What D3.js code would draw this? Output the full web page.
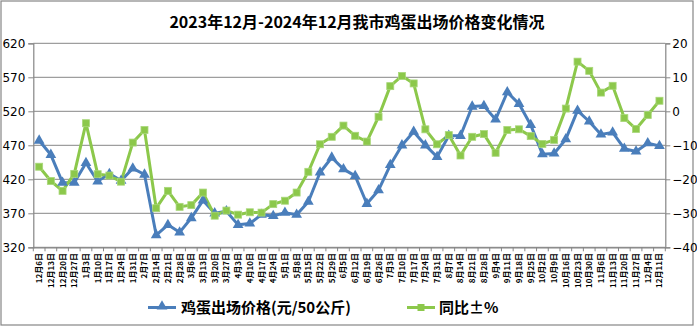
<!DOCTYPE html>
<html><head><meta charset="utf-8">
<script src="https://cdn.jsdelivr.net/npm/d3@7"></script>
<style>body{margin:0;background:#fff;}svg{display:block;}</style>
</head><body>
<svg id="c" width="697" height="326"></svg>
<script>
const categories = ["12月6日","12月13日","12月20日","12月27日","1月3日","1月10日","1月17日","1月24日","1月31日","2月7日","2月14日","2月21日","2月28日","3月6日","3月13日","3月20日","3月27日","4月3日","4月10日","4月17日","4月24日","5月1日","5月8日","5月15日","5月22日","5月29日","6月5日","6月12日","6月19日","6月26日","7月3日","7月10日","7月17日","7月24日","7月31日","8月7日","8月14日","8月21日","8月28日","9月4日","9月11日","9月18日","9月25日","10月2日","10月9日","10月16日","10月23日","10月30日","11月6日","11月13日","11月20日","11月27日","12月4日","12月11日"];
const priceValues = [477,456,415,415,444,417,428,418,436,427,338,353,342,363,389,370,373,353,355,368,366,371,368,387,430,452,435,425,384,404,441,470,490,470,453,484,484,527,528,508,548,531,500,457,458,479,521,505,486,489,465,461,473,469];
const yoyValues = [-16.3,-20.5,-23.4,-18.4,-3.5,-18.5,-18.9,-20.7,-9.2,-5.5,-28.5,-23.4,-28.1,-27.6,-23.9,-30.7,-29.2,-30.4,-29.7,-29.8,-27.3,-26.3,-23.9,-17.8,-9.7,-7.5,-4.2,-7.2,-8.9,-1.6,7.4,10.4,8.2,-5.3,-9.7,-7.0,-13.0,-7.5,-6.7,-12.2,-5.5,-5.3,-7.3,-9.6,-8.4,0.8,14.6,11.9,5.5,7.5,-2.0,-5.2,-1.1,3.1];
const leftTicks = [320,370,420,470,520,570,620];
const rightTicks = [-40,-30,-20,-10,0,10,20];
const title = "2023年12月-2024年12月我市鸡蛋出场价格变化情况";
const seriesNames = ["鸡蛋出场价格(元/50公斤)","同比±%"];
const colors = ["#4a7ebb","#8cc84b"];

const svg = d3.select("#c");
const L = 33.3, R = 665.3, T = 43.3, B = 247.3;
const x = d3.scaleBand().domain(categories).range([L, R]);
const yL = d3.scaleLinear().domain([320,620]).range([B,T]);
const yR = d3.scaleLinear().domain([-40,20]).range([B,T]);
const gray = "#868686";

svg.append("rect").attr("x",1).attr("y",1).attr("width",692).attr("height",324)
  .attr("fill","#fff").attr("stroke",gray).attr("stroke-width",1.2);

svg.append("text").attr("x",357).attr("y",28).attr("text-anchor","middle")
  .attr("font-family","'Noto Sans CJK SC'").attr("font-weight","bold").attr("font-size",16)
  .attr("fill","#000").text(title);

// grid
svg.append("g").selectAll("line").data(leftTicks).join("line")
  .attr("x1",L).attr("x2",R).attr("y1",d=>yL(d)).attr("y2",d=>yL(d))
  .attr("stroke",gray).attr("stroke-width",1);

// left axis
const gl = svg.append("g").attr("transform",`translate(${L},0)`)
  .call(d3.axisLeft(yL).tickValues(leftTicks).tickSize(5).tickPadding(3));
gl.selectAll("text").attr("font-family","'DejaVu Sans'").attr("font-size",12).attr("fill","#000");
// right axis
const gr = svg.append("g").attr("transform",`translate(${R},0)`)
  .call(d3.axisRight(yR).tickValues(rightTicks).tickSize(5).tickPadding(2));
gr.selectAll("text").attr("font-family","'DejaVu Sans'").attr("font-size",12).attr("fill","#000");
// bottom axis
const gb = svg.append("g").attr("transform",`translate(0,${B})`)
  .call(d3.axisBottom(x).tickSize(0).tickPadding(0));
gb.selectAll("text").remove();
gb.selectAll(".tick line").remove();
// band boundary ticks
const bounds = categories.map(c=>x(c)).concat([R]);
gb.selectAll("line.bt").data(bounds).join("line").attr("class","bt")
  .attr("x1",d=>d).attr("x2",d=>d).attr("y1",0).attr("y2",4).attr("stroke",gray);
[gl,gr,gb].forEach(g=>{g.selectAll("path.domain").attr("stroke",gray).attr("stroke-width",1.2);g.selectAll(".tick line").attr("stroke",gray);});

svg.append("g").selectAll("text").data(categories).join("text")
  .attr("transform",d=>`translate(${x(d)+x.bandwidth()/2+3},253) rotate(-90)`)
  .attr("text-anchor","end").attr("font-family","'Noto Sans CJK SC'").attr("font-weight","bold")
  .attr("font-size",8).attr("fill","#000").text(d=>d);

const cx = d=>x(d)+x.bandwidth()/2;
// lines
const lineP = d3.line().x((d,i)=>cx(categories[i])).y(d=>yL(d));
const lineY = d3.line().x((d,i)=>cx(categories[i])).y(d=>yR(d));
svg.append("path").datum(priceValues).attr("d",lineP).attr("fill","none").attr("stroke",colors[0]).attr("stroke-width",3).attr("stroke-linejoin","round");
svg.append("path").datum(yoyValues).attr("d",lineY).attr("fill","none").attr("stroke",colors[1]).attr("stroke-width",3).attr("stroke-linejoin","round");
const tri = d3.symbol().type(d3.symbolTriangle).size(50);
svg.append("g").selectAll("path").data(priceValues).join("path")
  .attr("d",tri).attr("transform",(d,i)=>`translate(${cx(categories[i])},${yL(d)})`).attr("fill",colors[0]);
svg.append("g").selectAll("rect").data(yoyValues).join("rect")
  .attr("x",(d,i)=>cx(categories[i])-3.5).attr("y",d=>yR(d)-3.5).attr("width",7).attr("height",7)
  .attr("fill",colors[1]).attr("stroke","#a9d77a").attr("stroke-width",0.8);

// legend
const lg = svg.append("g");
lg.append("line").attr("x1",148).attr("x2",176).attr("y1",307.5).attr("y2",307.5).attr("stroke",colors[0]).attr("stroke-width",3);
lg.append("path").attr("d",tri).attr("transform","translate(162,306.5)").attr("fill",colors[0]);
lg.append("text").attr("x",181).attr("y",313).attr("font-family","'Noto Sans CJK SC'").attr("font-weight","bold").attr("font-size",15).attr("fill","#000").text(seriesNames[0]);
lg.append("line").attr("x1",407).attr("x2",435).attr("y1",307.5).attr("y2",307.5).attr("stroke",colors[1]).attr("stroke-width",3);
lg.append("rect").attr("x",417.5).attr("y",304).attr("width",7).attr("height",7).attr("fill",colors[1]);
lg.append("text").attr("x",439).attr("y",313).attr("font-family","'Noto Sans CJK SC'").attr("font-weight","bold").attr("font-size",15).attr("fill","#000").text(seriesNames[1]);
</script>
</body></html>
